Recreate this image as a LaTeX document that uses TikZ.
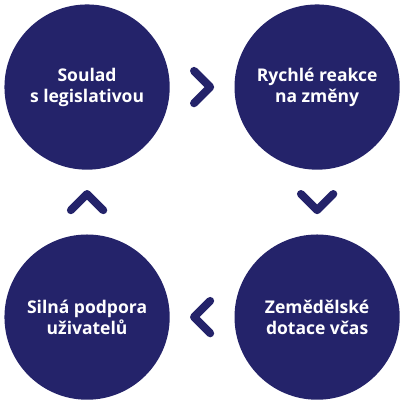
\documentclass[tikz,border=0pt]{standalone}
\usepackage{fontspec}
\setmainfont{Open Sans}
\usetikzlibrary{calc}
\definecolor{navy}{RGB}{36,35,106}
\begin{document}
\begin{tikzpicture}[
    kruh/.style={circle,fill=navy,minimum size=4.08cm,inner sep=0pt,text=white,align=center,font=\bfseries\fontsize{12.3}{14.8}\selectfont},
    sipka/.style={navy,line width=5.6pt,line cap=round,line join=round}]
    \useasboundingbox (0,0) rectangle (10,10);
    \node[kruh] (soulad) at (2.15,7.85) {Soulad\\s legislativou};
    \node[kruh] (reakce) at (7.83,7.85) {Rychlé reakce\\na změny};
    \node[kruh] (dotace) at (7.83,2.17) {Zemědělské\\dotace včas};
    \node[kruh] (podpora) at (2.15,2.17) {Silná podpora\\uživatelů};
    \draw[sipka] ($(soulad)!0.5!(reakce)$) ++(-0.2,0.4) -- ++(0.4,-0.4) -- ++(-0.4,-0.4);
    \draw[sipka] ($(reakce)!0.5!(dotace)$) ++(-0.4,0.2) -- ++(0.4,-0.4) -- ++(0.4,0.4);
    \draw[sipka] ($(dotace)!0.5!(podpora)$) ++(0.2,0.4) -- ++(-0.4,-0.4) -- ++(0.4,-0.4);
    \draw[sipka] ($(podpora)!0.5!(soulad)$) ++(-0.4,-0.2) -- ++(0.4,0.4) -- ++(0.4,-0.4);
\end{tikzpicture}
\end{document}
